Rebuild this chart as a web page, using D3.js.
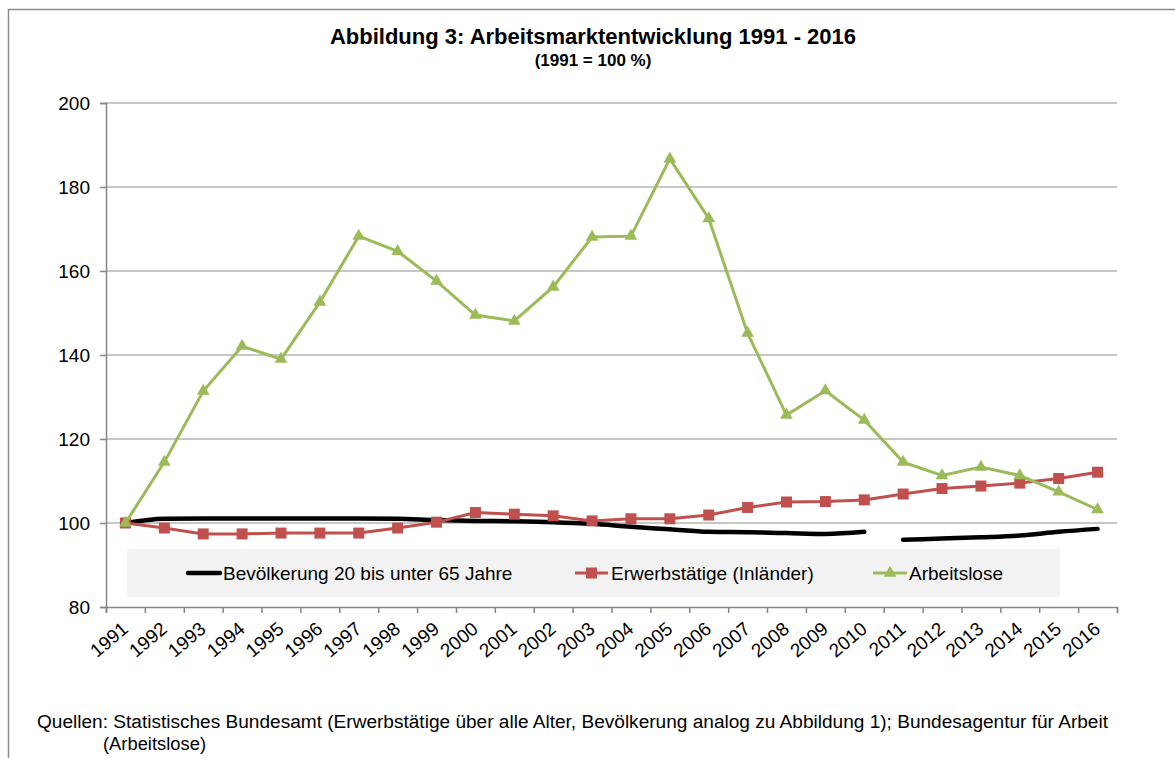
<!DOCTYPE html>
<html>
<head>
<meta charset="utf-8">
<script src="https://d3js.org/d3.v7.min.js"></script>
<style>
body { margin: 0; background: #fff; }
text { font-family: "Liberation Sans", Arial, sans-serif; fill: #000; }
</style>
</head>
<body>
<svg class="chart" width="1175" height="758"></svg>
<script>
// data
const years = ["1991","1992","1993","1994","1995","1996","1997","1998","1999","2000",
  "2001","2002","2003","2004","2005","2006","2007","2008","2009","2010",
  "2011","2012","2013","2014","2015","2016"];
const bevoelkerung = [100, 101.0, 101.1, 101.1, 101.1, 101.1, 101.1, 101.0, 100.7, 100.5,
  100.4, 100.2, 99.8, 99.1, 98.5, 97.9, 97.8, 97.6, 97.4, 97.9,
  96.0, 96.3, 96.6, 97.0, 97.9, 98.6];
const bevoelkerungBreakAfter = "2010";
const erwerbstaetige = [100, 98.8, 97.4, 97.4, 97.6, 97.6, 97.6, 98.8, 100.2, 102.5,
  102.1, 101.7, 100.5, 101.0, 101.0, 101.9, 103.7, 105.0, 105.1, 105.5,
  106.9, 108.2, 108.8, 109.5, 110.6, 112.1];
const arbeitslose = [100, 114.5, 131.4, 142.1, 139.0, 152.6, 168.3, 164.7, 157.6, 149.5,
  148.1, 156.2, 168.1, 168.3, 186.7, 172.5, 145.2, 125.7, 131.5, 124.5,
  114.5, 111.3, 113.3, 111.3, 107.4, 103.2];
const yTicks = [80, 100, 120, 140, 160, 180, 200];
const seriesNames = ["Bevölkerung 20 bis unter 65 Jahre", "Erwerbstätige (Inländer)", "Arbeitslose"];

const svg = d3.select(".chart");

// outer frame
svg.append("rect")
  .attr("x", 8.5).attr("y", 9.5).attr("width", 1200).attr("height", 800)
  .attr("fill", "none").attr("stroke", "#8a8a8a").attr("stroke-width", 1.5);

const x = d3.scaleBand().domain(years).range([106, 1117]);
const xc = d => x(d) + x.bandwidth() / 2;
const y = d3.scaleLinear().domain([80, 200]).range([607, 103]);

// gridlines
svg.append("g")
  .selectAll("line")
  .data(yTicks.filter(t => t > 80))
  .enter().append("line")
    .attr("x1", 106).attr("x2", 1117)
    .attr("y1", d => y(d)).attr("y2", d => y(d))
    .attr("stroke", "#b4b4b4").attr("stroke-width", 1.5);

// y axis
const yAxis = svg.append("g")
  .attr("transform", "translate(106,0)")
  .call(d3.axisLeft(y).tickValues(yTicks).tickSize(6).tickPadding(10));
yAxis.selectAll("text").attr("font-size", 19).attr("font-family", "Liberation Sans, Arial, sans-serif");
yAxis.selectAll("line, path").attr("stroke", "#868686").attr("stroke-width", 1.5);

// x axis: ticks at category boundaries, labels rotated at centers
const xb = d3.scaleLinear().domain([0, years.length]).range([106, 1117]);
const xAxis = svg.append("g")
  .attr("transform", "translate(0,607)")
  .call(d3.axisBottom(xb).ticks(years.length).tickSize(6).tickFormat(""));
xAxis.selectAll("line, path").attr("stroke", "#868686").attr("stroke-width", 1.5);

svg.append("g")
  .selectAll("text")
  .data(years)
  .enter().append("text")
    .attr("transform", d => "translate(" + (xc(d) + 4) + ",631) rotate(-40)")
    .attr("text-anchor", "end")
    .attr("font-size", 19)
    .text(d => d);

// legend box
svg.append("rect")
  .attr("x", 127).attr("y", 549).attr("width", 933).attr("height", 48)
  .attr("fill", "#f2f2f2");

// lines
const popPoints = years.map((d, i) => ({year: d, v: bevoelkerung[i]}));
const cut = years.indexOf(bevoelkerungBreakAfter) + 1;
const smooth = d3.line().x(d => xc(d.year)).y(d => y(d.v)).curve(d3.curveMonotoneX);
svg.append("g").selectAll("path")
  .data([popPoints.slice(0, cut), popPoints.slice(cut)])
  .enter().append("path")
    .attr("d", smooth)
    .attr("fill", "none").attr("stroke", "#000").attr("stroke-width", 4.5)
    .attr("stroke-linecap", "round");

const straight = d3.line().x((d, i) => xc(years[i])).y(d => y(d));

svg.append("path")
  .attr("d", straight(erwerbstaetige))
  .attr("fill", "none").attr("stroke", "#c0504d").attr("stroke-width", 3);
svg.append("g").selectAll("rect")
  .data(erwerbstaetige)
  .enter().append("rect")
    .attr("x", (d, i) => xc(years[i]) - 5.5)
    .attr("y", d => y(d) - 5.5)
    .attr("width", 11).attr("height", 11)
    .attr("fill", "#c0504d");

const tri = d3.symbol().type(d3.symbolTriangle).size(70);
svg.append("path")
  .attr("d", straight(arbeitslose))
  .attr("fill", "none").attr("stroke", "#9bbb59").attr("stroke-width", 3);
svg.append("g").selectAll("path")
  .data(arbeitslose)
  .enter().append("path")
    .attr("d", tri)
    .attr("transform", (d, i) => "translate(" + xc(years[i]) + "," + y(d) + ")")
    .attr("fill", "#9bbb59");

// legend entries
const legendY = 573;
const lg = svg.append("g");
lg.append("line").attr("x1", 188).attr("x2", 220).attr("y1", legendY).attr("y2", legendY)
  .attr("stroke", "#000").attr("stroke-width", 4.5).attr("stroke-linecap", "round");
lg.append("text").attr("x", 223).attr("y", legendY + 7).attr("font-size", 19).text(seriesNames[0]);

lg.append("line").attr("x1", 575).attr("x2", 608).attr("y1", legendY).attr("y2", legendY)
  .attr("stroke", "#c0504d").attr("stroke-width", 3);
lg.append("rect").attr("x", 586).attr("y", legendY - 5.5).attr("width", 11).attr("height", 11)
  .attr("fill", "#c0504d");
lg.append("text").attr("x", 611).attr("y", legendY + 7).attr("font-size", 19).text(seriesNames[1]);

lg.append("line").attr("x1", 873).attr("x2", 907).attr("y1", legendY).attr("y2", legendY)
  .attr("stroke", "#9bbb59").attr("stroke-width", 3);
lg.append("path").attr("d", tri).attr("transform", "translate(890," + legendY + ")")
  .attr("fill", "#9bbb59");
lg.append("text").attr("x", 909).attr("y", legendY + 7).attr("font-size", 19).text(seriesNames[2]);

// titles
svg.append("text")
  .attr("x", 593).attr("y", 44)
  .attr("text-anchor", "middle").attr("font-size", 22).attr("font-weight", "bold")
  .text("Abbildung 3: Arbeitsmarktentwicklung 1991 - 2016");
svg.append("text")
  .attr("x", 593).attr("y", 66)
  .attr("text-anchor", "middle").attr("font-size", 17).attr("font-weight", "bold")
  .text("(1991 = 100 %)");

// source note
svg.append("text")
  .attr("x", 37).attr("y", 728)
  .attr("font-size", 18)
  .attr("textLength", 1071).attr("lengthAdjust", "spacingAndGlyphs")
  .text("Quellen: Statistisches Bundesamt (Erwerbstätige über alle Alter, Bevölkerung analog zu Abbildung 1); Bundesagentur für Arbeit");
svg.append("text")
  .attr("x", 103).attr("y", 750)
  .attr("font-size", 18)
  .attr("textLength", 103).attr("lengthAdjust", "spacingAndGlyphs")
  .text("(Arbeitslose)");
</script>
</body>
</html>
